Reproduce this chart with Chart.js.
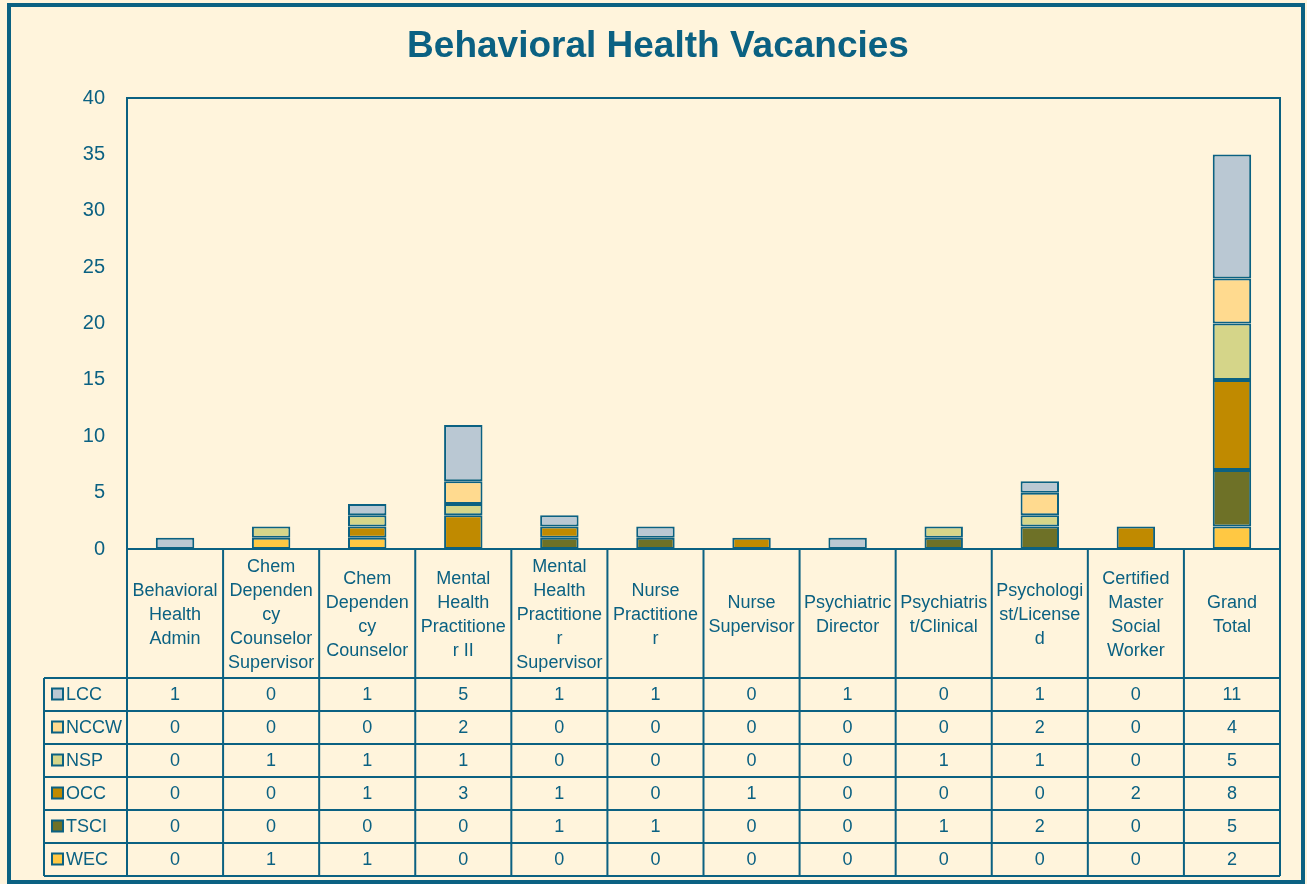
<!DOCTYPE html>
<html lang="en">
<head>
  <meta charset="UTF-8" />
  <title>Behavioral Health Vacancies</title>
  <script src="https://cdn.jsdelivr.net/npm/chart.js"></script>
  <style>
    body { margin: 0; background: #FFF4DC; }
    #wrap { width: 1307px; height: 884px; }
  </style>
</head>
<body>
  <div id="wrap"><canvas id="vacChart" width="1307" height="884"></canvas></div>

  <script>
    // categories, one entry per column (lines as wrapped in the original)
    const categories = [
      ['Behavioral', 'Health', 'Admin'],
      ['Chem', 'Dependen', 'cy', 'Counselor', 'Supervisor'],
      ['Chem', 'Dependen', 'cy', 'Counselor'],
      ['Mental', 'Health', 'Practitione', 'r II'],
      ['Mental', 'Health', 'Practitione', 'r', 'Supervisor'],
      ['Nurse', 'Practitione', 'r'],
      ['Nurse', 'Supervisor'],
      ['Psychiatric', 'Director'],
      ['Psychiatris', 't/Clinical'],
      ['Psychologi', 'st/License', 'd'],
      ['Certified', 'Master', 'Social', 'Worker'],
      ['Grand', 'Total']
    ];

    // series in table order (top row first)
    const seriesNames = ['LCC', 'NCCW', 'NSP', 'OCC', 'TSCI', 'WEC'];
    const lcc  = [1, 0, 1, 5, 1, 1, 0, 1, 0, 1, 0, 11];
    const nccw = [0, 0, 0, 2, 0, 0, 0, 0, 0, 2, 0, 4];
    const nsp  = [0, 1, 1, 1, 0, 0, 0, 0, 1, 1, 0, 5];
    const occ  = [0, 0, 1, 3, 1, 0, 1, 0, 0, 0, 2, 8];
    const tsci = [0, 0, 0, 0, 1, 1, 0, 0, 1, 2, 0, 5];
    const wec  = [0, 1, 1, 0, 0, 0, 0, 0, 0, 0, 0, 2];
    const seriesValues = [lcc, nccw, nsp, occ, tsci, wec];
    const seriesColors = ['#BAC8D3', '#FFDA8F', '#D5D589', '#C08A00', '#6E7127', '#FFC843'];

    const yTicks = [0, 5, 10, 15, 20, 25, 30, 35, 40];

    const TEAL = '#0B6182';
    const FONT = '"Liberation Sans", Arial, sans-serif';
    const headerH = 129;
    const rowH = 33;
    const legendLeft = 44;

    // stack from the bottom: WEC first, LCC last
    const datasets = seriesNames.map((name, i) => ({
      label: name,
      data: seriesValues[i],
      backgroundColor: seriesColors[i],
      borderColor: TEAL,
      borderWidth: 2,
      borderSkipped: false,
      barPercentage: 0.4,
      categoryPercentage: 1.0
    })).reverse();

    const frameAndTable = {
      id: 'frameAndTable',
      beforeDraw(chart) {
        const ctx = chart.ctx;
        ctx.save();
        ctx.fillStyle = '#FFF4DC';
        ctx.fillRect(0, 0, chart.width, chart.height);
        ctx.strokeStyle = TEAL;
        ctx.lineWidth = 4;
        ctx.strokeRect(9, 5, chart.width - 13, chart.height - 7);

        ctx.fillStyle = TEAL;
        ctx.font = 'bold 37px ' + FONT;
        ctx.textAlign = 'center';
        ctx.textBaseline = 'middle';
        ctx.fillText('Behavioral Health Vacancies', 658, 47);
        ctx.restore();
      },
      afterDraw(chart) {
        const ctx = chart.ctx;
        const area = chart.chartArea;
        const xs = chart.scales.x;
        const n = categories.length;
        const colW = (area.right - area.left) / n;
        const top = area.bottom;
        const rowsTop = top + headerH;
        const bottom = rowsTop + rowH * seriesNames.length;

        ctx.save();
        ctx.strokeStyle = TEAL;
        ctx.lineWidth = 2;

        // plot box
        ctx.strokeRect(area.left, area.top, area.right - area.left, area.bottom - area.top);

        // vertical column lines
        for (let i = 0; i <= n; i++) {
          const x = area.left + i * colW;
          ctx.beginPath();
          ctx.moveTo(x, top);
          ctx.lineTo(x, bottom);
          ctx.stroke();
        }
        ctx.beginPath();
        ctx.moveTo(legendLeft, rowsTop);
        ctx.lineTo(legendLeft, bottom);
        ctx.stroke();

        // horizontal row lines
        for (let r = 0; r <= seriesNames.length; r++) {
          const y = rowsTop + r * rowH;
          ctx.beginPath();
          ctx.moveTo(legendLeft, y);
          ctx.lineTo(area.right, y);
          ctx.stroke();
        }

        ctx.fillStyle = TEAL;
        ctx.font = '18px ' + FONT;
        ctx.textAlign = 'center';
        ctx.textBaseline = 'middle';

        // header labels
        categories.forEach((lines, i) => {
          const cx = xs.getPixelForValue(i);
          const cy = top + headerH / 2 + 1.5;
          const lh = 24;
          lines.forEach((ln, k) => {
            ctx.fillText(ln, cx, cy + (k - (lines.length - 1) / 2) * lh);
          });
        });

        // value rows with legend keys
        seriesNames.forEach((name, r) => {
          const cy = rowsTop + r * rowH + rowH / 2;
          ctx.fillStyle = seriesColors[r];
          ctx.fillRect(52, cy - 6, 11, 11);
          ctx.lineWidth = 2;
          ctx.strokeRect(52, cy - 6, 11, 11);
          ctx.fillStyle = TEAL;
          ctx.textAlign = 'left';
          ctx.fillText(name, 66, cy + 1);
          ctx.textAlign = 'center';
          seriesValues[r].forEach((v, i) => {
            ctx.fillText(String(v), xs.getPixelForValue(i), cy + 1);
          });
        });
        ctx.restore();
      }
    };

    new Chart(document.getElementById('vacChart'), {
      type: 'bar',
      data: {
        labels: categories.map(c => c.join(' ')),
        datasets: datasets
      },
      options: {
        responsive: false,
        animation: false,
        layout: { padding: { top: 98, right: 27, bottom: 335, left: 0 } },
        plugins: {
          legend: { display: false },
          tooltip: { enabled: false },
          title: { display: false }
        },
        scales: {
          x: { stacked: true, display: false },
          y: {
            stacked: true,
            min: 0,
            max: 40,
            afterBuildTicks: s => { s.ticks = yTicks.map(v => ({ value: v })); },
            afterFit: s => { s.width = 127; },
            grid: { display: false, drawTicks: false },
            border: { display: false },
            ticks: {
              color: TEAL,
              padding: 22,
              font: { family: FONT, size: 20 }
            }
          }
        }
      },
      plugins: [frameAndTable]
    });
  </script>
</body>
</html>
